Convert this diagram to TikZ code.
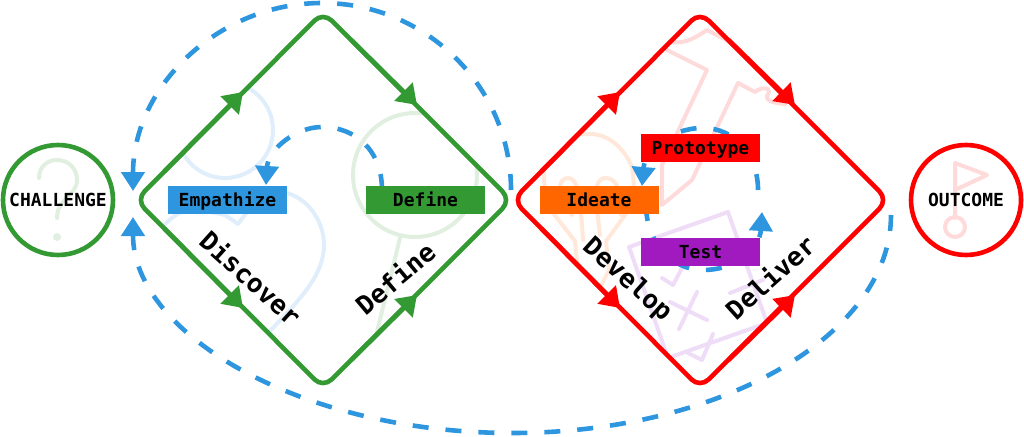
\documentclass[tikz,border=0pt]{standalone}
\usepackage{fontspec}
\setmonofont{DejaVu Sans Mono}
\usetikzlibrary{arrows.meta}
\definecolor{flowblue}{HTML}{2E96DF}
\definecolor{flowgreen}{HTML}{339933}
\definecolor{flowred}{HTML}{FF0000}
\definecolor{floworange}{HTML}{FF6600}
\definecolor{flowpurple}{HTML}{A01ABF}
\definecolor{faintblue}{HTML}{DFEEFA}
\definecolor{faintgreen}{HTML}{E0EFE0}
\definecolor{faintred}{HTML}{FFDADA}
\definecolor{faintorange}{HTML}{FFE8DA}
\definecolor{faintpurple}{HTML}{EFDDF8}

\begin{document}
\begin{tikzpicture}
	[x=1pt, y=-1pt, line join=round,
	font=\ttfamily\bfseries\fontsize{18}{18}\selectfont,
	endpoint/.style = {draw, circle, line width=4.6pt, minimum size=110pt, inner sep=0pt},
	phase/.style = {minimum width=119pt, minimum height=28pt, inner sep=0pt, text height=13pt, text depth=0pt},
	stage/.style = {font=\ttfamily\bfseries\fontsize{26}{26}\selectfont},
	diamond line/.style = {line width=4.6pt, rounded corners=12pt},
	side tip/.style = {line width=4.6pt, shorten <=40pt, -{Triangle[length=19pt, width=25pt]}},
	loop line/.style = {flowblue, line width=4.6pt, dash pattern=on 16pt off 17pt, -{Triangle[length=19pt, width=23pt]}},
	icon/.style = {line width=4pt, line cap=round}]
	\useasboundingbox (0,0) rectangle (1024,436);

	\coordinate (gl) at (136,200);
	\coordinate (gt) at (323,12);
	\coordinate (gr) at (511,200);
	\coordinate (gb) at (323,388);
	\coordinate (rl) at (513,200);
	\coordinate (rt) at (700,12);
	\coordinate (rr) at (888,200);
	\coordinate (rb) at (700,388);

	\begin{scope}
		\clip (gl) -- (gt) -- (gr) -- (gb) -- cycle;
		\draw[icon, faintblue] (225,130) circle (48);
		\draw[icon, faintblue] (160,230) .. controls (170,218) and (178,212) .. (192,208) -- (225,215) -- (238,224) -- (250,208) .. controls (265,190) and (283,191) .. (290,194) .. controls (312,202) and (324,225) .. (324,245) .. controls (324,275) and (300,300) .. (265,336);
		\draw[icon, faintgreen] (415,175) circle (62);
		\draw[icon, faintgreen] (400,238) -- (375,340);
	\end{scope}
	\begin{scope}
		\clip (rl) -- (rt) -- (rr) -- (rb) -- cycle;
		\draw[icon, faintorange] (553,213) .. controls (545,195) and (538,170) .. (552,147) .. controls (562,135) and (575,134) .. (590,134) .. controls (610,134) and (625,150) .. (632,167) .. controls (636,190) and (632,205) .. (623,218) -- (606,241) -- (609,270) -- (602,284);
		\draw[icon, faintorange] (553,213) -- (575,241) -- (577,262);
		\draw[icon, faintorange] (572,215) .. controls (555,195) and (558,178) .. (568,178) .. controls (578,178) and (580,195) .. (583,240);
		\draw[icon, faintorange] (621,215) .. controls (622,195) and (618,178) .. (606,178) .. controls (592,178) and (596,200) .. (600,235);
		\draw[icon, faintred] (667,50) -- (707,70) -- (662,165) -- (662,205) -- (692,180) -- (738,83) -- (755,92) .. controls (762,86) and (772,88) .. (768,94) .. controls (764,100) and (772,103) .. (785,104);
		\draw[icon, faintred] (672,42) .. controls (685,44) and (695,38) .. (707,30) -- (730,42);
		\draw[icon, faintpurple] (629,247) -- (728,212) -- (767,323) -- (668,358) -- cycle;
		\draw[icon, faintpurple] (662,278) -- (673,285) -- (682,268);
		\draw[icon, faintpurple] (670,302) -- (707,320);
		\draw[icon, faintpurple] (697,292) -- (679,329);
		\draw[icon, faintpurple] (688,353) -- (702,360) -- (713,334);
		\draw[icon, faintpurple] (730,293) -- (763,280);
	\end{scope}
	\draw[icon, faintgreen] (39,178) .. controls (39,167) and (47,160) .. (57,160) .. controls (69,160) and (77,169) .. (77,180) .. controls (77,196) and (57,198) .. (57,218);
	\fill[faintgreen] (57,237) circle (4);
	\draw[icon, faintred] (955,218) -- (955,163) -- (987,175) -- (955,190);
	\draw[icon, faintred] (955,227) circle (10);

	\node[endpoint, flowgreen] (challenge) at (58,200) {};
	\node[endpoint, flowred] (outcome) at (966,200) {};
	\node[text=black] (challengetext) at (58,200) {CHALLENGE};
	\node[text=black] (outcometext) at (966,200) {OUTCOME};

	\draw[diamond line, flowgreen] (gl) -- (gt) -- (gr) -- (gb) -- cycle;
	\draw[diamond line, flowred] (rl) -- (rt) -- (rr) -- (rb) -- cycle;

	\coordinate (ga) at (243,92);
	\coordinate (gc) at (417,105);
	\coordinate (gd) at (243,308);
	\coordinate (ge) at (417,295);
	\coordinate (ra) at (620,92);
	\coordinate (rc) at (795,105);
	\coordinate (rd) at (620,308);
	\coordinate (re) at (795,295);
	\draw[side tip, flowgreen] (gl) -- (ga);
	\draw[side tip, flowgreen] (gt) -- (gc);
	\draw[side tip, flowgreen] (gl) -- (gd);
	\draw[side tip, flowgreen] (gb) -- (ge);
	\draw[side tip, flowred] (rl) -- (ra);
	\draw[side tip, flowred] (rt) -- (rc);
	\draw[side tip, flowred] (rl) -- (rd);
	\draw[side tip, flowred] (rb) -- (re);

	\coordinate (outerstart) at (511,190);
	\coordinate (outerend) at (133,191);
	\coordinate (lowerstart) at (891,215);
	\coordinate (lowerend) at (133,217);
	\coordinate (innerstart) at (382,190);
	\coordinate (innerend) at (266,185);
	\coordinate (protostart) at (758,190);
	\coordinate (protoend) at (642,186);
	\coordinate (teststart) at (646,205);
	\coordinate (testend) at (762,212);
	\draw[loop line] (outerstart) .. controls (511,87) and (426,3) .. (322,3) .. controls (218,3) and (133,87) .. (outerend);
	\draw[loop line] (lowerstart) .. controls (891,335) and (721,433) .. (512,433) .. controls (303,433) and (133,335) .. (lowerend);
	\draw[loop line] (innerstart) .. controls (382,150) and (355,127) .. (322,127) .. controls (295,127) and (268,150) .. (innerend);
	\draw[loop line] (protostart) .. controls (758,155) and (735,128) .. (703,128) .. controls (670,128) and (645,150) .. (protoend);
	\draw[loop line] (teststart) .. controls (646,240) and (670,270) .. (703,270) .. controls (740,270) and (760,245) .. (testend);

	\node[phase, fill=flowblue] (empathize) at (227.5,200) {Empathize};
	\node[phase, fill=flowgreen] (define) at (425.5,200) {Define};
	\node[phase, fill=floworange] (ideate) at (599,200) {Ideate};
	\node[phase, fill=flowred] (prototype) at (700.5,147.5) {Prototype};
	\node[phase, fill=flowpurple] (test) at (700.5,252) {Test};

	\node[stage, rotate=-42] (discover) at (251,278) {Discover};
	\node[stage, rotate=40] (definestage) at (395,278) {Define};
	\node[stage, rotate=-42] (develop) at (627,280) {Develop};
	\node[stage, rotate=42] (deliver) at (770,277) {Deliver};
\end{tikzpicture}
\end{document}
